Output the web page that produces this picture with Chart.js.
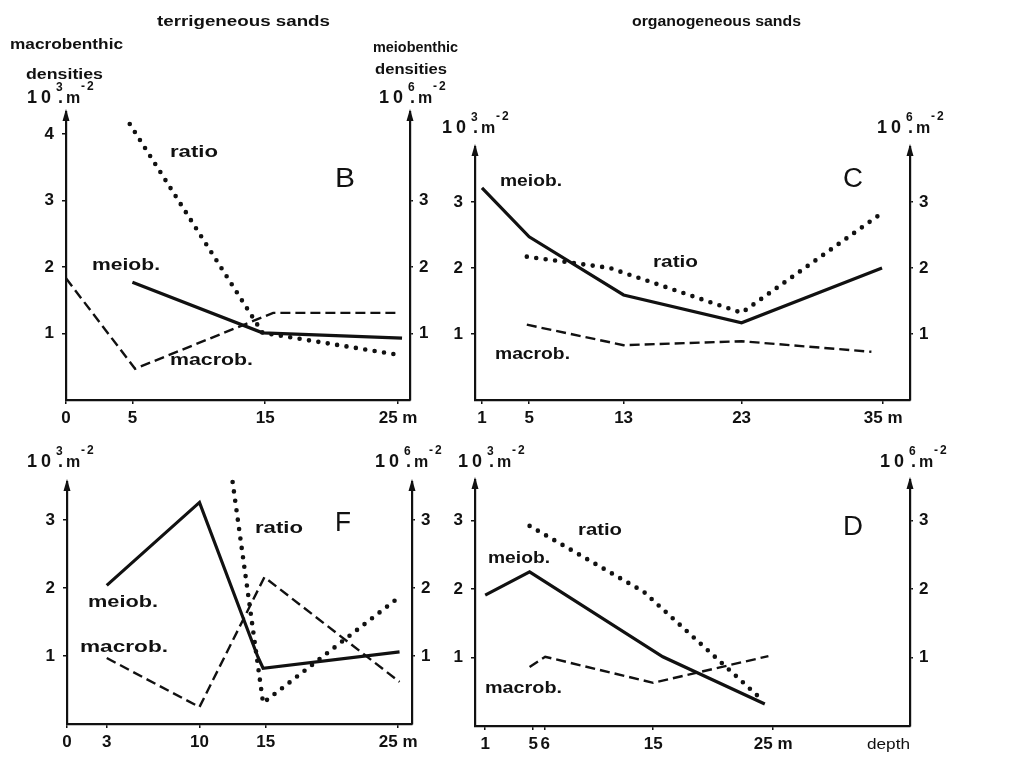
<!DOCTYPE html>
<html><head><meta charset="utf-8">
<script src="https://cdn.jsdelivr.net/npm/chart.js@4.4.1/dist/chart.umd.min.js"></script>
<style>
html,body{margin:0;padding:0;background:#fff;}
body{width:1025px;height:759px;position:relative;overflow:hidden;}
canvas{position:absolute;left:0;top:0;}
</style></head>
<body>
<canvas id="cB" width="1025" height="759"></canvas>
<canvas id="cC" width="1025" height="759"></canvas>
<canvas id="cF" width="1025" height="759"></canvas>
<canvas id="cD" width="1025" height="759"></canvas>
<script>
// ---- Panel B (terrigeneous sands) ----
const B_xTicks = [0, 5, 15, 25];
const B_yTicks = [1, 2, 3, 4];
const B_meiobDepth = [5, 14.8, 25.3];
const B_meiob      = [1.77, 1.01, 0.93];
const B_macrobDepth = [0, 5.2, 15.6, 24.9];
const B_macrob      = [1.83, 0.47, 1.31, 1.31];
const B_ratioDepth = [4.8, 14.8, 24.7];
const B_ratio      = [4.15, 1.01, 0.69];

// ---- Panel C (organogeneous sands) ----
const C_xTicks = [1, 5, 13, 23, 35];
const C_yTicks = [1, 2, 3];
const C_meiobDepth = [1, 5, 13, 23, 34.9];
const C_meiob      = [3.21, 2.47, 1.59, 1.17, 2.0];
const C_macrobDepth = [4.8, 13, 23, 34];
const C_macrob      = [1.14, 0.83, 0.89, 0.73];
const C_ratioDepth = [4.8, 11.8, 23, 34.9];
const C_ratio      = [2.17, 2.0, 1.32, 2.83];

// ---- Panel F (terrigeneous sands) ----
const F_xTicks = [0, 3, 10, 15, 25];
const F_yTicks = [1, 2, 3];
const F_meiobDepth = [3, 10, 14.4, 14.8, 25.1];
const F_meiob      = [2.04, 3.26, 0.99, 0.82, 1.06];
const F_macrobDepth = [3, 10, 14.9, 25.1];
const F_macrob      = [0.97, 0.25, 2.16, 0.62];
const F_ratioDepth = [12.5, 14.8, 24.9];
const F_ratio      = [3.56, 0.31, 1.84];

// ---- Panel D (organogeneous sands) ----
const D_xTicks = [1, 5, 6, 15, 25];
const D_yTicks = [1, 2, 3];
const D_meiobDepth = [1, 4.7, 15.8, 24.3];
const D_meiob      = [1.91, 2.25, 1.01, 0.32];
const D_macrobDepth = [4.7, 6, 15, 24.6];
const D_macrob      = [0.86, 1.01, 0.63, 1.02];
const D_ratioDepth = [4.7, 14.2, 23.9];
const D_ratio      = [2.92, 1.96, 0.41];

const rightTicks = [1, 2, 3];

const FAM = '"Liberation Sans", Arial, Helvetica, sans-serif';
const INK = '#111';

function pts(xs, ys){ return xs.map((x,i)=>({x:x, y:ys[i]})); }

function fitText(ctx, str, x, y, w, size, weight){
  ctx.save();
  ctx.font = weight + ' ' + size + 'px ' + FAM;
  ctx.fillStyle = INK;
  ctx.textAlign = 'left';
  ctx.textBaseline = 'middle';
  const m = ctx.measureText(str).width;
  ctx.translate(x, y);
  ctx.scale(w / m, 1);
  ctx.fillText(str, 0, 0);
  ctx.restore();
}

function drawUnit(ctx, x, y, exp){
  ctx.save();
  ctx.fillStyle = INK;
  ctx.textBaseline = 'middle';
  ctx.textAlign = 'left';
  ctx.font = 'bold 18px ' + FAM;
  ctx.fillText('1', x, y);
  ctx.fillText('0', x + 14, y);
  ctx.font = 'bold 12px ' + FAM;
  ctx.fillText(exp, x + 29, y - 10);
  ctx.font = 'bold 18px ' + FAM;
  ctx.fillText('.', x + 31, y);
  ctx.font = 'bold 16px ' + FAM;
  ctx.fillText('m', x + 39, y + 1);
  ctx.font = 'bold 12px ' + FAM;
  ctx.fillText('-', x + 54, y - 11);
  ctx.fillText('2', x + 60, y - 11);
  ctx.restore();
}

function arrow(ctx, x, top){
  ctx.save();
  ctx.fillStyle = INK;
  ctx.beginPath();
  ctx.moveTo(x, top - 3);
  ctx.lineTo(x - 3.5, top + 9);
  ctx.lineTo(x + 3.5, top + 9);
  ctx.closePath();
  ctx.fill();
  ctx.restore();
}

const STYLE = {
  meiob:  {borderWidth: 3.2, borderDash: [], borderCapStyle: 'butt'},
  macrob: {borderWidth: 2.4, borderDash: [10, 5], borderCapStyle: 'butt'},
  ratio:  {borderWidth: 4.6, borderDash: [0, 9.5], borderCapStyle: 'round'}
};

const panels = [
  {id:'cB', L:66, R:410, T:112, Bt:400, xmin:0, xmax:25.9, ymax:4.33,
   xTicks:B_xTicks, yTicks:B_yTicks,
   series:{meiob:pts(B_meiobDepth,B_meiob), macrob:pts(B_macrobDepth,B_macrob), ratio:pts(B_ratioDepth,B_ratio)},
   texts:[['ratio',170,152,48,17,'bold'],['meiob.',92,265,68,17,'bold'],['macrob.',170,360,83,17,'bold'],['B',335,180,20,27,'normal'],
          ['terrigeneous sands',157,22,173,15,'bold'],
          ['macrobenthic',10,45,113,15,'bold'],['densities',26,75,77,15,'bold'],
          ['meiobenthic',373,48,85,15,'bold'],['densities',375,70,72,15,'bold'],
          ['organogeneous sands',632,22,169,15,'bold']],
   units:[[27,98,'3'],[379,98,'6']]},
  {id:'cC', L:475, R:910, T:147, Bt:400, xmin:0.41, xmax:37.27, ymax:3.83,
   xTicks:C_xTicks, yTicks:C_yTicks,
   series:{meiob:pts(C_meiobDepth,C_meiob), macrob:pts(C_macrobDepth,C_macrob), ratio:pts(C_ratioDepth,C_ratio)},
   texts:[['meiob.',500,181,62,17,'bold'],['ratio',653,262,45,17,'bold'],['macrob.',495,354,75,17,'bold'],['C',843,180,20,27,'normal']],
   units:[[442,128,'3'],[877,128,'6']]},
  {id:'cF', L:67, R:412, T:482, Bt:724, xmin:0, xmax:26.04, ymax:3.56,
   xTicks:F_xTicks, yTicks:F_yTicks,
   series:{meiob:pts(F_meiobDepth,F_meiob), macrob:pts(F_macrobDepth,F_macrob), ratio:pts(F_ratioDepth,F_ratio)},
   texts:[['meiob.',88,602,70,17,'bold'],['macrob.',80,647,88,17,'bold'],['ratio',255,528,48,17,'bold'],['F',335,524,16,27,'normal']],
   units:[[27,462,'3'],[375,462,'6']]},
  {id:'cD', L:475, R:910, T:480, Bt:726, xmin:0.15, xmax:36.4, ymax:3.59,
   xTicks:D_xTicks, yTicks:D_yTicks,
   series:{meiob:pts(D_meiobDepth,D_meiob), macrob:pts(D_macrobDepth,D_macrob), ratio:pts(D_ratioDepth,D_ratio)},
   texts:[['ratio',578,530,44,17,'bold'],['meiob.',488,558,62,17,'bold'],['macrob.',485,688,77,17,'bold'],['D',843,528,20,27,'normal'],
          ['depth',867,745,43,15,'normal']],
   units:[[458,462,'3'],[880,462,'6']]}
];

const tickFont = {family: FAM, size: 17, weight: 'bold'};

panels.forEach(p => {
  const deco = {
    id: 'deco_' + p.id,
    afterDraw(chart){
      const ctx = chart.ctx, a = chart.chartArea;
      arrow(ctx, a.left, a.top);
      arrow(ctx, a.right, a.top);
      p.texts.forEach(t => fitText(ctx, t[0], t[1], t[2], t[3], t[4], t[5]));
      p.units.forEach(u => drawUnit(ctx, u[0], u[1], u[2]));
    }
  };
  const last = p.xTicks[p.xTicks.length - 1];
  const datasets = ['macrob','meiob','ratio'].map(k => Object.assign({
    label: k, data: p.series[k], borderColor: INK, backgroundColor: INK,
    pointRadius: 0, tension: 0, fill: false, clip: false, yAxisID: 'y'
  }, STYLE[k]));
  new Chart(document.getElementById(p.id), {
    type: 'line',
    data: {datasets},
    options: {
      responsive: false, animation: false, devicePixelRatio: 1,
      layout: {padding: {left: p.L - 40, right: 1025 - p.R - 40, top: p.T, bottom: 759 - p.Bt - 30}},
      plugins: {legend: {display: false}, tooltip: {enabled: false}, title: {display: false}},
      scales: {
        x: {type: 'linear', position: 'bottom', min: p.xmin, max: p.xmax,
            afterFit: s => { s.height = 30; },
            afterBuildTicks: s => { s.ticks = p.xTicks.map(v => ({value: v})); },
            ticks: {autoSkip: false, maxRotation: 0, color: INK, font: tickFont, padding: 4,
                    callback: v => v === last ? v + ' m' : String(v)},
            grid: {drawOnChartArea: false, drawTicks: true, tickLength: 4, color: INK, lineWidth: 1.5},
            border: {display: true, color: INK, width: 2.2}},
        y: {type: 'linear', position: 'left', min: 0, max: p.ymax,
            afterFit: s => { s.width = 40; },
            afterBuildTicks: s => { s.ticks = p.yTicks.map(v => ({value: v})); },
            ticks: {color: INK, font: tickFont, padding: 8},
            grid: {drawOnChartArea: false, drawTicks: true, tickLength: 4, color: INK, lineWidth: 1.5},
            border: {display: true, color: INK, width: 2.2}},
        y2: {type: 'linear', position: 'right', min: 0, max: p.ymax,
            afterFit: s => { s.width = 40; },
            afterBuildTicks: s => { s.ticks = rightTicks.map(v => ({value: v})); },
            ticks: {color: INK, font: tickFont, padding: 6},
            grid: {drawOnChartArea: false, drawTicks: true, tickLength: 3, color: INK, lineWidth: 1.5},
            border: {display: true, color: INK, width: 2.2}}
      }
    },
    plugins: [deco]
  });
});
</script>
</body></html>
